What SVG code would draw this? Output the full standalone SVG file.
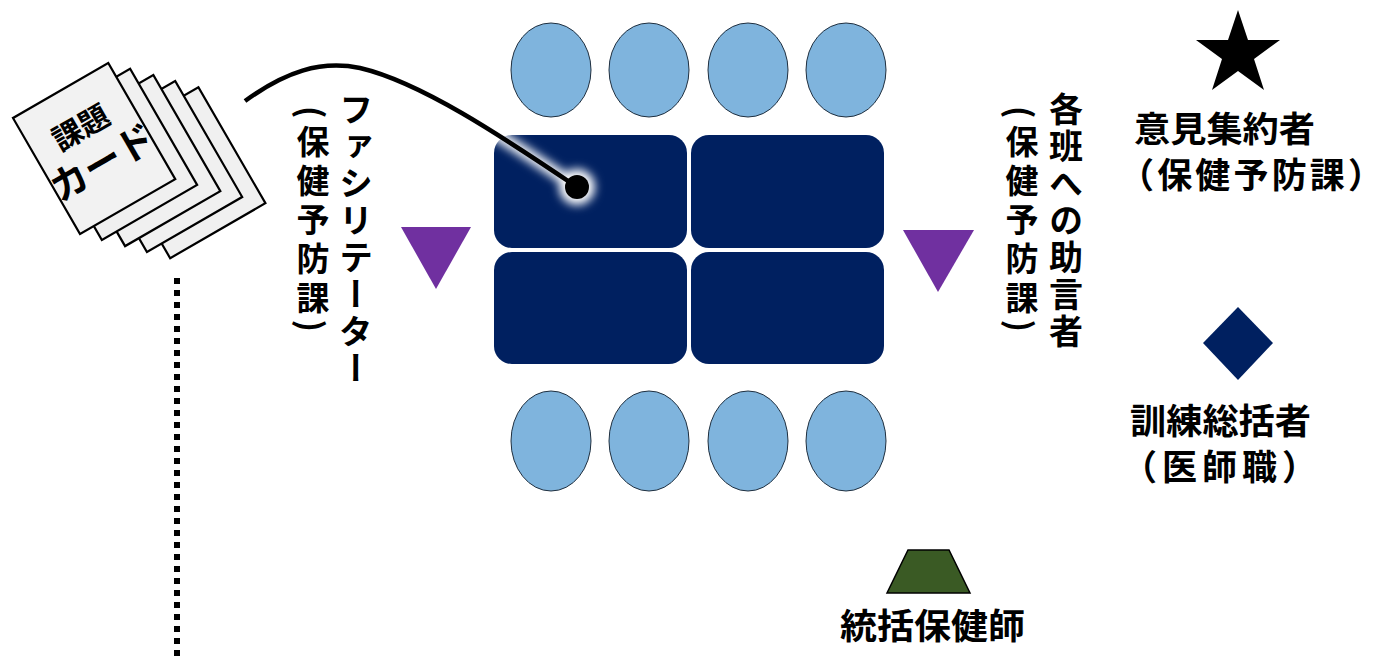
<svg xmlns="http://www.w3.org/2000/svg" width="1385" height="661" viewBox="0 0 1385 661">
<defs>
<style>
.t{font-family:"Noto Sans CJK JP","Noto Sans",sans-serif;font-weight:bold;fill:#000}
.v{writing-mode:vertical-rl;font-family:"Noto Sans CJK JP","Noto Sans",sans-serif;font-weight:bold;fill:#000}
.tbl{fill:#002060}
.seat{fill:#7fb4dd;stroke:#1f2f3f;stroke-width:1}
.tri{fill:#7030a0}
.card{stroke:#000;stroke-width:2.2}
</style>
<filter id="glow" x="-50%" y="-50%" width="200%" height="200%">
<feGaussianBlur stdDeviation="5"/>
</filter>
</defs>
<rect width="1385" height="661" fill="#fff"/>

<g id="cards">
<g transform="translate(13,118) rotate(-30)">
<rect class="card" x="66" y="66" width="110" height="134" fill="#f0f0f0"/>
<rect class="card" x="49" y="49" width="110" height="134" fill="#f0f0f0"/>
<rect class="card" x="33" y="33" width="110" height="134" fill="#f0f0f0"/>
<rect class="card" x="16" y="16" width="110" height="134" fill="#f0f0f0"/>
<rect class="card" x="0" y="0" width="110" height="134" fill="#f2f2f2"/>
<text class="t" x="54" y="53" font-size="30" text-anchor="middle">課題</text>
<text class="t" x="55" y="97" font-size="38" text-anchor="middle">カード</text>
</g>
</g>

<g id="dotted-line">
<line x1="177" y1="278" x2="177" y2="658" stroke="#000" stroke-width="6" stroke-dasharray="6 6"/>
</g>

<g id="tables">
<rect class="tbl" x="494" y="135" width="193" height="113" rx="18"/>
<rect class="tbl" x="691" y="135" width="193" height="113" rx="18"/>
<rect class="tbl" x="494" y="252" width="193" height="112" rx="18"/>
<rect class="tbl" x="691" y="252" width="193" height="112" rx="18"/>
</g>

<g id="seats-top">
<ellipse class="seat" cx="551" cy="70" rx="40" ry="47"/>
<ellipse class="seat" cx="649" cy="70" rx="40" ry="47"/>
<ellipse class="seat" cx="748" cy="70" rx="40" ry="47"/>
<ellipse class="seat" cx="846" cy="70" rx="40" ry="47"/>
</g>
<g id="seats-bottom">
<ellipse class="seat" cx="551" cy="441" rx="40" ry="50"/>
<ellipse class="seat" cx="649" cy="441" rx="40" ry="50"/>
<ellipse class="seat" cx="748" cy="441" rx="40" ry="50"/>
<ellipse class="seat" cx="846" cy="441" rx="40" ry="50"/>
</g>

<g id="connectors">
<g filter="url(#glow)">
<path d="M245,101 C285,72 320,60 360,68 C420,82 500,135 577,187" fill="none" stroke="#fff" stroke-width="12"/>
<circle cx="577" cy="187" r="18" fill="#fff"/>
</g>
<path d="M245,101 C285,72 320,60 360,68 C420,82 500,135 577,187" fill="none" stroke="#000" stroke-width="4.5"/>
<circle cx="577" cy="187" r="12" fill="#000"/>
</g>

<g id="facilitator">
<polygon class="tri" points="401,227 471,227 436,289"/>
<text class="v" x="356" y="92" font-size="34" letter-spacing="3">ファシリテーター</text>
<text class="v" x="313" y="106" font-size="33" letter-spacing="6">(保健予防課)</text>
</g>

<g id="advisor">
<polygon class="tri" points="903,230 974,230 938,292"/>
<text class="v" x="1066" y="92" font-size="34" letter-spacing="3">各班への助言者</text>
<text class="v" x="1022" y="106" font-size="33" letter-spacing="6">(保健予防課)</text>
</g>

<g id="aggregator">
<polygon fill="#000" points="1238,10 1248,40 1280,40 1254,59 1264,90 1238,71 1212,90 1222,59 1196,40 1228,40"/>
<text class="t" x="1134" y="142" font-size="35" textLength="181" lengthAdjust="spacingAndGlyphs">意見集約者</text>
<text class="t" x="1119" y="188" font-size="35" textLength="264" lengthAdjust="spacing">（保健予防課）</text>
</g>

<g id="director">
<polygon fill="#002060" points="1238,307 1273,343 1238,380 1203,343"/>
<text class="t" x="1130" y="434" font-size="35" textLength="181" lengthAdjust="spacingAndGlyphs">訓練総括者</text>
<text class="t" x="1122" y="480" font-size="35" textLength="195" lengthAdjust="spacing">（医師職）</text>
</g>

<g id="chief-nurse">
<polygon fill="#3a5a24" stroke="#000" stroke-width="1.5" points="908,550 949,550 970,593 887,593"/>
<text class="t" x="840" y="639" font-size="35" textLength="185" lengthAdjust="spacingAndGlyphs">統括保健師</text>
</g>
</svg>
